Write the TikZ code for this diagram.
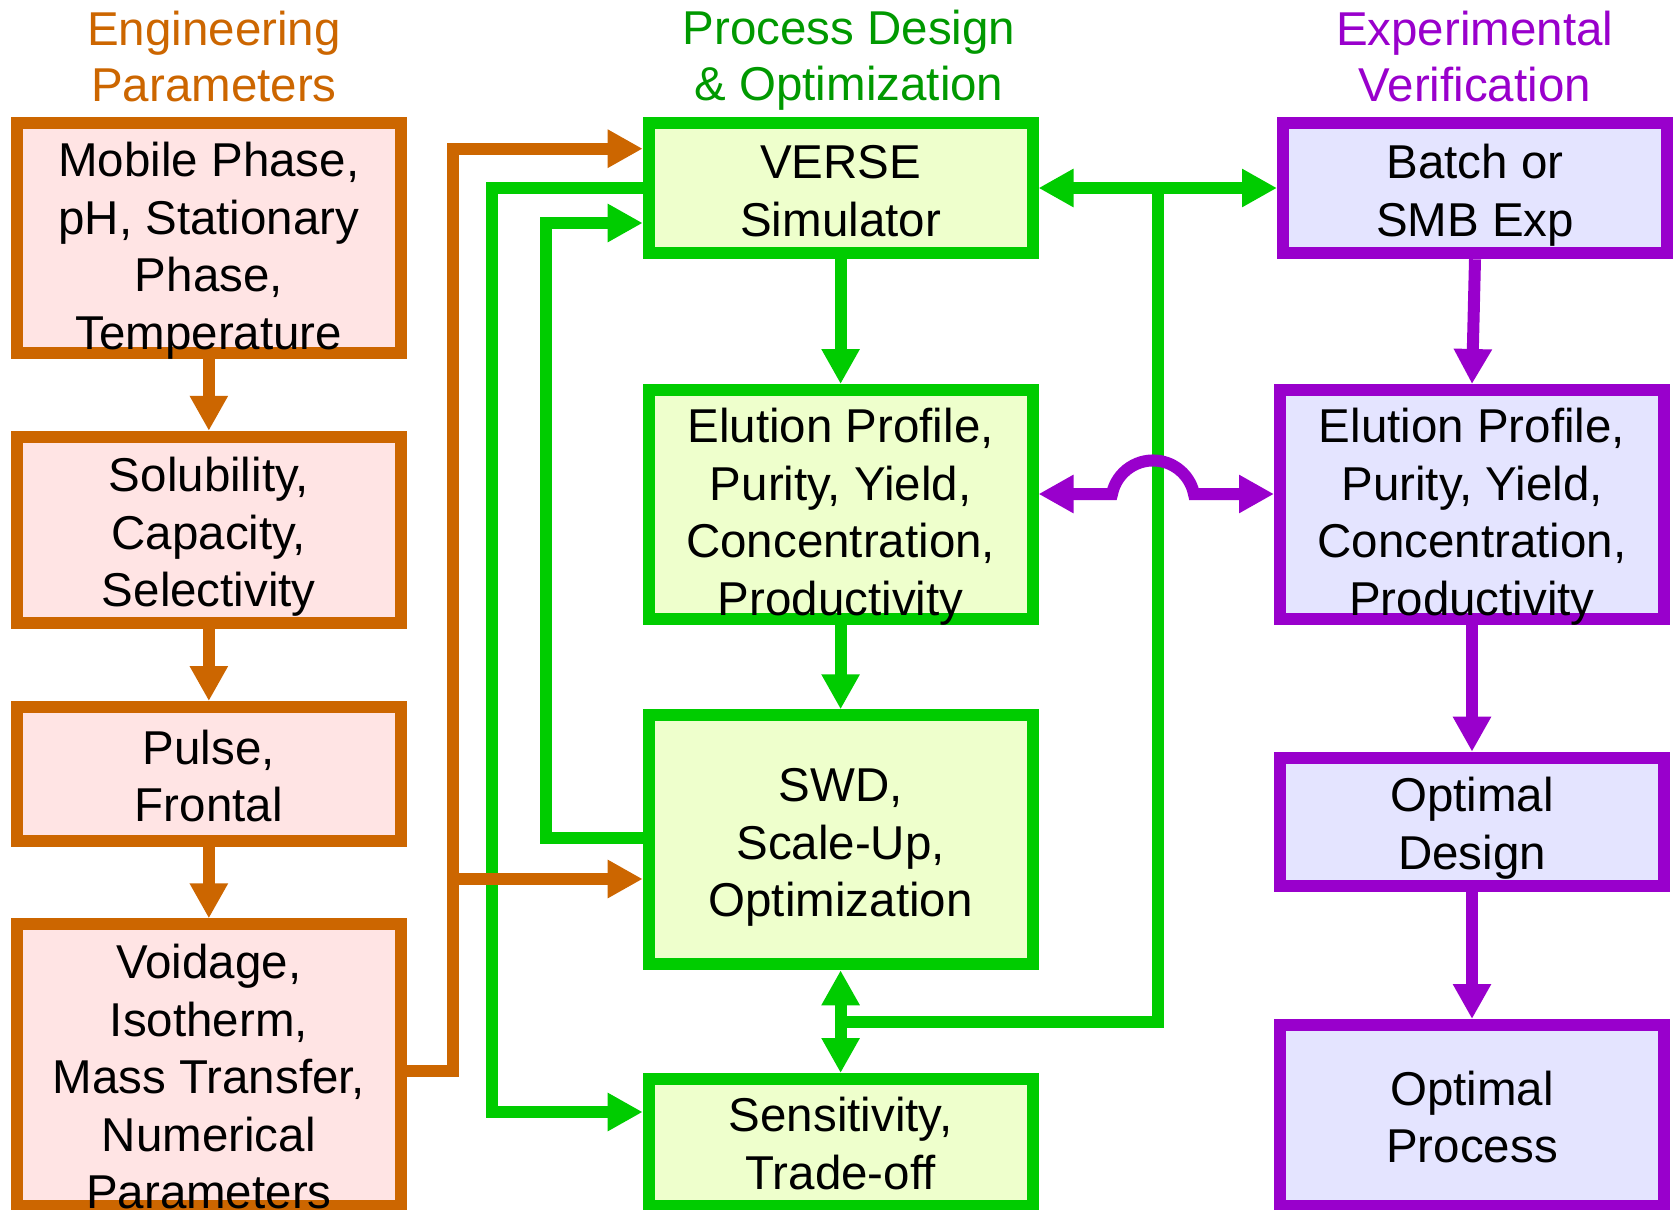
\documentclass[tikz,border=0pt]{standalone}
\usepackage{fontspec}
\setmainfont{Liberation Sans}
\usetikzlibrary{arrows.meta}

\definecolor{eng}{HTML}{CC6600}
\definecolor{proc}{HTML}{00CC00}
\definecolor{proctitle}{HTML}{009900}
\definecolor{expv}{HTML}{9900CC}
\definecolor{engfill}{HTML}{FFE4E4}
\definecolor{procfill}{HTML}{EEFFCC}
\definecolor{expfill}{HTML}{E4E4FF}

% fixed-height line strut so every text block has a known top edge
\newcommand\rowstrut{\rule[-12pt]{0pt}{52pt}}

\begin{document}
\begin{tikzpicture}[x=1pt,y=-1pt,
  box/.style={draw, rectangle, line width=12pt, inner sep=0pt, outer sep=6pt},
  engbox/.style={box, draw=eng, fill=engfill, minimum width=384.3pt},
  procbox/.style={box, draw=proc, fill=procfill, minimum width=383.8pt},
  expbox/.style={box, draw=expv, fill=expfill, minimum width=384pt},
  txt/.style={anchor=north, inner sep=0pt, align=center,
    font=\fontsize{47.5}{57.5}\selectfont},
  heading/.style={anchor=north, inner sep=0pt, align=center,
    font=\fontsize{47.5}{56}\selectfont},
  flow/.style={line width=12pt},
  tip/.style={-{Triangle[width=36pt,length=35pt]}},
  tips/.style={{Triangle[width=36pt,length=35pt]}-{Triangle[width=36pt,length=35pt]}}
]
\useasboundingbox (0,0) rectangle (1679,1210);
\clip (0,0) rectangle (1679,1210);
\fill[white] (0,0) rectangle (1679,1210);

% column headings
\node[heading, text=eng] (hEng) at (214,5) {\rowstrut Engineering\\\rowstrut Parameters};
\node[heading, text=proctitle] (hProc) at (849,4) {\rowstrut Process Design\\\rowstrut \& Optimization};
\node[heading, text=expv] (hExp) at (1474.7,5) {\rowstrut Experimental\\\rowstrut Verification};

% engineering parameter boxes
\node[engbox, minimum height=230pt]   (mob) at (208.85,238) {};
\node[engbox, minimum height=186.5pt] (sol) at (208.85,530) {};
\node[engbox, minimum height=133.7pt] (pul) at (208.85,773.85) {};
\node[engbox, minimum height=281.7pt] (voi) at (208.85,1065.2) {};

% process design boxes
\node[procbox, minimum height=130.6pt] (ver) at (840.6,188) {};
\node[procbox, minimum height=229pt]   (elu) at (840.6,504.5) {};
\node[procbox, minimum height=249pt]   (swd) at (840.6,839.8) {};
\node[procbox, minimum height=127pt]   (sen) at (840.6,1142.5) {};

% experimental verification boxes
\node[expbox, minimum height=130.6pt] (bat) at (1475,188) {};
\node[expbox, minimum height=229pt]   (elr) at (1472,504.5) {};
\node[expbox, minimum height=128.6pt] (opd) at (1472,822) {};
\node[expbox, minimum height=181pt]   (opp) at (1472,1115.5) {};

% junction points of the routed connectors
\coordinate (gOutTop) at (492,188);
\coordinate (gOutBot) at (492,1112);
\coordinate (gInTop)  at (546,223);
\coordinate (gInBot)  at (546,837.5);
\coordinate (gRTop)   at (1157.5,188);
\coordinate (gRBot)   at (1157.5,1022);
\coordinate (gREnd)   at (843,1022);
\coordinate (oTop) at (453,148.7);
\coordinate (oMid) at (453,879);
\coordinate (oBot) at (453,1070.7);
\coordinate (hopL) at (1112,494);

% process design connectors
\draw[flow, proc, tip] (ver.west |- gOutTop) -- (gOutTop) -- (gOutBot) -- (sen.west |- gOutBot);
\draw[flow, proc, tip] (swd.west |- gInBot) -- (gInBot) -- (gInTop) -- (ver.west |- gInTop);
\draw[flow, proc] (gRTop) -- (gRBot) -- (gREnd);
\draw[flow, proc, tips] (ver.east |- gRTop) -- (bat.west |- gRTop);
\draw[flow, proc, tip] (ver.south) -- (elu.north);
\draw[flow, proc, tip] (elu.south) -- (swd.north);
\draw[flow, proc, tips] (swd.south) -- (sen.north);

% engineering parameter connectors
\draw[flow, eng, tip] (mob.south) -- (sol.north);
\draw[flow, eng, tip] (sol.south) -- (pul.north);
\draw[flow, eng, tip] (pul.south) -- (voi.north);
\draw[flow, eng, tip] (voi.east |- oBot) -- (oBot) -- (oTop) -- (ver.west |- oTop);
\draw[flow, eng, tip] (oMid) -- (swd.west |- oMid);

% experimental verification connectors
\draw[flow, expv, tip] (bat.south) -- (elr.north);
\draw[flow, expv, tip] (elr.south) -- (opd.north);
\draw[flow, expv, tip] (opd.south) -- (opp.north);
\draw[flow, expv, tips] (elu.east |- hopL) -- (hopL)
  arc[start angle=168.6, end angle=11.4, radius=41.8pt] -- (elr.west |- hopL);

% box texts
\node[txt] (tMob) at (208.85,136.7) {\rowstrut Mobile Phase,\\\rowstrut pH, Stationary\\\rowstrut Phase,\\\rowstrut Temperature};
\node[txt] (tSol) at (208.85,451.7) {\rowstrut Solubility,\\\rowstrut Capacity,\\\rowstrut Selectivity};
\node[txt] (tPul) at (208.85,724) {\rowstrut Pulse,\\\rowstrut Frontal};
\node[txt] (tVoi) at (208.85,938.3) {\rowstrut Voidage,\\\rowstrut Isotherm,\\\rowstrut Mass Transfer,\\\rowstrut Numerical\\\rowstrut Parameters};

\node[txt] (tVer) at (840.6,138.3) {\rowstrut VERSE\\\rowstrut Simulator};
\node[txt] (tElu) at (840.6,402.3) {\rowstrut Elution Profile,\\\rowstrut Purity, Yield,\\\rowstrut Concentration,\\\rowstrut Productivity};
\node[txt] (tSwd) at (840.6,761.7) {\rowstrut SWD,\\\rowstrut Scale-Up,\\\rowstrut Optimization};
\node[txt] (tSen) at (840.6,1091.7) {\rowstrut Sensitivity,\\\rowstrut Trade-off};

\node[txt] (tBat) at (1475,138.3) {\rowstrut Batch or\\\rowstrut SMB Exp};
\node[txt] (tElr) at (1472,402.3) {\rowstrut Elution Profile,\\\rowstrut Purity, Yield,\\\rowstrut Concentration,\\\rowstrut Productivity};
\node[txt] (tOpd) at (1472,771.7) {\rowstrut Optimal\\\rowstrut Design};
\node[txt] (tOpp) at (1472,1065) {\rowstrut Optimal\\\rowstrut Process};
\end{tikzpicture}
\end{document}
